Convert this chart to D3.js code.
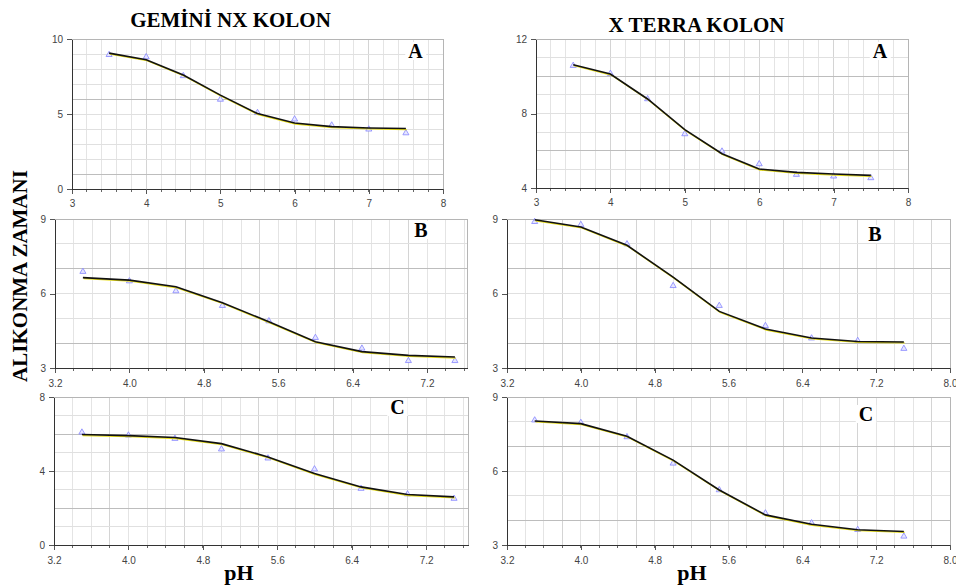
<!DOCTYPE html>
<html>
<head>
<meta charset="utf-8">
<script src="https://cdn.jsdelivr.net/npm/d3@7"></script>
<style>
body { margin: 0; background: #fff; }
svg { display: block; }
.tick text { font-family: "Liberation Sans", Arial, sans-serif; font-size: 10px; fill: #444; }
.big { font-family: "Liberation Serif", "Times New Roman", serif; font-weight: bold; fill: #000; }
</style>
</head>
<body>
<div id="chart"></div>
<script>
// pH values where retention was measured
const phValues = [3.5, 4.0, 4.5, 5.0, 5.5, 6.0, 6.5, 7.0, 7.5];

// retention times (triangles) and the fitted curve
const geminiAObs = [8.95, 8.8, 7.54, 5.97, 5.08, 4.65, 4.25, 3.98, 3.73];
const geminiAFit = [9.06, 8.62, 7.6, 6.26, 5.03, 4.4, 4.16, 4.07, 4.03];
const xterraAObs = [10.57, 10.14, 8.78, 6.9, 5.97, 5.29, 4.72, 4.63, 4.54];
const xterraAFit = [10.62, 10.12, 8.78, 7.13, 5.84, 5.02, 4.84, 4.75, 4.68];

const geminiBObs = [6.88, 6.5, 6.1, 5.51, 4.89, 4.22, 3.79, 3.29, 3.29];
const geminiBFit = [6.64, 6.54, 6.27, 5.63, 4.86, 4.06, 3.66, 3.51, 3.44];
const xterraBObs = [8.89, 8.77, 7.99, 6.31, 5.51, 4.7, 4.2, 4.1, 3.78];
const xterraBFit = [8.97, 8.68, 7.94, 6.66, 5.28, 4.57, 4.21, 4.07, 4.05];

const geminiCObs = [6.09, 5.93, 5.75, 5.18, 4.69, 4.1, 3.05, 2.75, 2.51];
const geminiCFit = [5.97, 5.91, 5.81, 5.48, 4.76, 3.86, 3.14, 2.73, 2.6];
const xterraCObs = [8.06, 7.96, 7.38, 6.31, 5.23, 4.29, 3.89, 3.62, 3.35];
const xterraCFit = [8.03, 7.92, 7.41, 6.44, 5.23, 4.22, 3.84, 3.62, 3.55];

// tick labels
const xTicksA = [3, 4, 5, 6, 7, 8];
const xTicksBCLeft = [3.2, 4.0, 4.8, 5.6, 6.4, 7.2];
const xTicksBCRight = [3.2, 4.0, 4.8, 5.6, 6.4, 7.2, 8.0];
const yTicksGeminiA = [0, 5, 10];
const yTicksXterraA = [4, 8, 12];
const yTicksB = [3, 6, 9];
const yTicksGeminiC = [0, 4, 8];
const yTicksXterraC = [3, 6, 9];

const titles = ["GEMİNİ NX KOLON", "X TERRA KOLON"];
const yTitle = "ALIKONMA ZAMANI";
const xTitle = "pH";

const W = 956, H = 586;

const panels = [
  { obs: geminiAObs, fit: geminiAFit, l: 72, r: 443, t: 39, b: 189, xd: [3, 8], yd: [0, 10],
    xt: xTicksA, fmt: d3.format("d"), yt: yTicksGeminiA, yDark: [6, 1], xDark: [4, 5, 6, 7], pad: 5.5,
    letter: "A", lx: 415.5, ly: 58 },
  { obs: xterraAObs, fit: xterraAFit, l: 536, r: 908, t: 39, b: 188, xd: [3, 8], yd: [4, 12],
    xt: xTicksA, fmt: d3.format("d"), yt: yTicksXterraA, yDark: [10, 6], xDark: [4, 5, 6, 7], pad: 5.5,
    letter: "A", lx: 880, ly: 58 },
  { obs: geminiBObs, fit: geminiBFit, l: 55, r: 467, t: 219, b: 368, xd: [3.2, 7.63], yd: [3, 9],
    xt: xTicksBCLeft, fmt: d3.format(".1f"), yt: yTicksB, yDark: [7, 4], xDark: [3.8, 4.6, 5.4, 6.2, 7.0], pad: 6.5,
    letter: "B", lx: 421, ly: 237 },
  { obs: xterraBObs, fit: xterraBFit, l: 507, r: 950, t: 219, b: 368, xd: [3.2, 8.0], yd: [3, 9],
    xt: xTicksBCRight, fmt: d3.format(".1f"), yt: yTicksB, yDark: [7, 4], xDark: [3.8, 4.6, 5.4, 6.2, 7.0, 7.8], pad: 6.5,
    letter: "B", lx: 875, ly: 241 },
  { obs: geminiCObs, fit: geminiCFit, l: 54, r: 468, t: 397, b: 545, xd: [3.2, 7.65], yd: [0, 8],
    xt: xTicksBCLeft, fmt: d3.format(".1f"), yt: yTicksGeminiC, yDark: [6, 2], xDark: [3.8, 4.6, 5.4, 6.2, 7.0], pad: 6.5,
    letter: "C", lx: 397.5, ly: 414 },
  { obs: xterraCObs, fit: xterraCFit, l: 507, r: 950, t: 397, b: 545, xd: [3.2, 8.0], yd: [3, 9],
    xt: xTicksBCRight, fmt: d3.format(".1f"), yt: yTicksXterraC, yDark: [7, 4], xDark: [3.8, 4.6, 5.4, 6.2, 7.0, 7.8], pad: 6.5,
    letter: "C", lx: 866, ly: 421 }
];

const svg = d3.select("#chart").append("svg")
  .attr("width", W).attr("height", H);

svg.append("rect").attr("width", W).attr("height", H).attr("fill", "#fff");

function drawPanel(p) {
  let x = d3.scaleLinear().domain(p.xd).range([p.l, p.r]);
  let y = d3.scaleLinear().domain(p.yd).range([p.b, p.t]);
  let g = svg.append("g");

  // minor grid, every 0.2 pH and every 1 unit of time
  let xMinor = d3.range(Math.round(p.xd[0] * 5), Math.floor(p.xd[1] * 5 + 1e-6) + 1).map(d => d / 5);
  let yMinor = d3.range(Math.ceil(p.yd[0]), Math.floor(p.yd[1]) + 1);

  g.selectAll(".vg").data(xMinor).join("line")
    .attr("x1", d => x(d)).attr("x2", d => x(d))
    .attr("y1", p.t).attr("y2", p.b)
    .attr("stroke", d => p.xDark.some(v => Math.abs(v - d) < 1e-6) ? "#d4d4d4" : "#e4e4e4")
    .attr("stroke-width", 1).attr("shape-rendering", "crispEdges");

  g.selectAll(".hg").data(yMinor).join("line")
    .attr("x1", p.l).attr("x2", p.r)
    .attr("y1", d => y(d)).attr("y2", d => y(d))
    .attr("stroke", d => p.yDark.includes(d) ? "#bdbdbd" : "#e0e0e0")
    .attr("stroke-width", 1).attr("shape-rendering", "crispEdges");

  // top and right frame
  g.append("path")
    .attr("d", `M${p.l},${p.t}H${p.r}V${p.b}`)
    .attr("fill", "none").attr("stroke", "#b5b5b5").attr("shape-rendering", "crispEdges");

  // minor ticks under the x axis
  g.selectAll(".mt").data(xMinor).join("line")
    .attr("x1", d => x(d)).attr("x2", d => x(d))
    .attr("y1", p.b).attr("y2", p.b + 3)
    .attr("stroke", "#666").attr("shape-rendering", "crispEdges");

  let xa = g.append("g")
    .attr("transform", `translate(0,${p.b})`)
    .call(d3.axisBottom(x).tickValues(p.xt).tickFormat(p.fmt).tickSize(5).tickSizeOuter(0).tickPadding(p.pad));
  let ya = g.append("g")
    .attr("transform", `translate(${p.l},0)`)
    .call(d3.axisLeft(y).tickValues(p.yt).tickFormat(d3.format("d")).tickSize(5).tickSizeOuter(0).tickPadding(4));
  [xa, ya].forEach(a => {
    a.select(".domain").attr("stroke", "#333").attr("shape-rendering", "crispEdges");
    a.selectAll(".tick line").attr("stroke", "#555").attr("shape-rendering", "crispEdges");
  });

  let pts = phValues.map((ph, i) => ({ ph: ph, obs: p.obs[i], fit: p.fit[i] }));

  // observed retention times
  g.selectAll(".pt").data(pts).join("path")
    .attr("d", d3.symbol().type(d3.symbolTriangle).size(16))
    .attr("transform", d => `translate(${x(d.ph)},${y(d.obs)})`)
    .attr("fill", "#e6e6ff").attr("stroke", "#8585ff").attr("stroke-width", 0.8);

  // fitted curve: yellow under black
  let line = d3.line().x(d => x(d.ph)).y(d => y(d.fit));
  g.append("path").datum(pts)
    .attr("d", line).attr("transform", "translate(0.8,1)")
    .attr("fill", "none").attr("stroke", "#e8de1a").attr("stroke-width", 1.3);
  g.append("path").datum(pts)
    .attr("d", line)
    .attr("fill", "none").attr("stroke", "#111").attr("stroke-width", 1.6);

  // panel letter on white
  let t = g.append("text").attr("class", "big")
    .attr("x", p.lx).attr("y", p.ly)
    .attr("text-anchor", "middle").attr("font-size", 20)
    .text(p.letter);
  let bb = t.node().getBBox();
  g.insert("rect", "text.big")
    .attr("x", bb.x - 3).attr("y", bb.y + 2).attr("width", bb.width + 6).attr("height", bb.height - 4)
    .attr("fill", "#fff");
}

panels.forEach(drawPanel);

// column titles
svg.append("text").attr("class", "big").attr("x", 230.5).attr("y", 27)
  .attr("text-anchor", "middle").attr("font-size", 21).text(titles[0]);
svg.append("text").attr("class", "big").attr("x", 696.5).attr("y", 32)
  .attr("text-anchor", "middle").attr("font-size", 21).text(titles[1]);

// y title
svg.append("text").attr("class", "big")
  .attr("transform", "translate(27,276) rotate(-90)")
  .attr("text-anchor", "middle").attr("font-size", 21).text(yTitle);

// x titles
svg.append("text").attr("class", "big").attr("x", 239).attr("y", 580)
  .attr("text-anchor", "middle").attr("font-size", 22).text(xTitle);
svg.append("text").attr("class", "big").attr("x", 692).attr("y", 580)
  .attr("text-anchor", "middle").attr("font-size", 22).text(xTitle);
</script>
</body>
</html>
